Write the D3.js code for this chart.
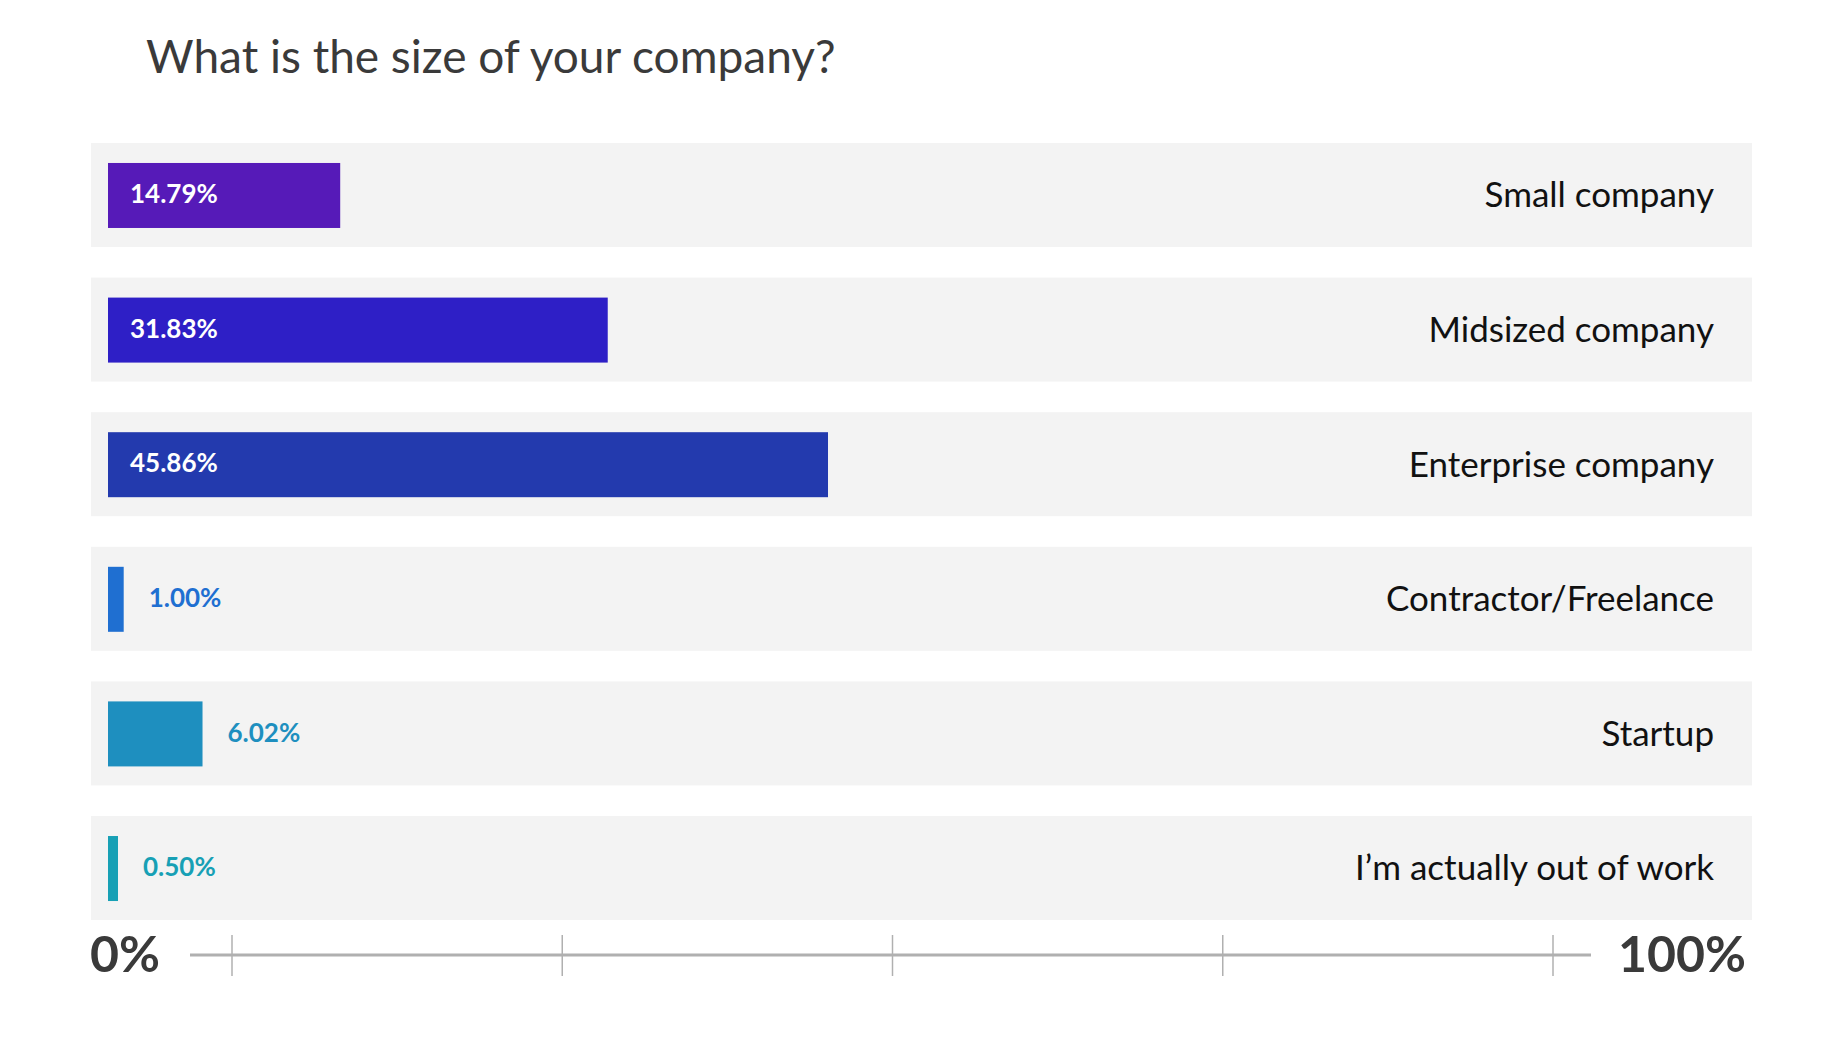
<!DOCTYPE html>
<html><head><meta charset="utf-8">
<script src="https://cdn.jsdelivr.net/npm/d3@7/dist/d3.min.js"></script>
<style>body{margin:0;background:#fff}svg{display:block}</style>
</head><body>
<svg id="c" width="1828" height="1042"></svg>
<script>
const categories = ["Small company","Midsized company","Enterprise company","Contractor/Freelance","Startup","I’m actually out of work"];
const values = [14.79,31.83,45.86,1.00,6.02,0.50];
const valueLabels = ["14.79%","31.83%","45.86%","1.00%","6.02%","0.50%"];
const colors = ["#561ab8","#2e1fc6","#233aae","#1f6fd1","#1e8fbf","#17a0b5"];
const axisTicks = [0,25,50,75,100];
const axisEnds = ["0%","100%"];

const svg = d3.select("#c");
const font = "Lato, 'Open Sans', sans-serif";
svg.append("text").attr("x",146).attr("y",73).attr("font-family",font)
  .attr("font-size",46).attr("fill","#3a3a3a").text("What is the size of your company?");

const y = d3.scaleBand().domain(categories).range([146,146+129*6]).paddingInner(0.25).paddingOuter(0);
const x = d3.scaleLinear().domain([0,100]).range([108,108+1570]);
const rowL = 91, rowR = 1752;
const g = svg.append("g");
const rows = g.selectAll("g").data(categories).join("g");
rows.append("rect").attr("x",rowL).attr("width",rowR-rowL)
  .attr("y",d=>y(d)-3).attr("height",y.bandwidth()+3+0).attr("fill","#f3f3f3");
const bh = 65;
rows.append("rect").attr("x",x(0)).attr("y",d=>y(d)+y.bandwidth()/2-bh/2-1)
  .attr("width",(d,i)=>Math.max(x(values[i])-x(0),10)).attr("height",bh)
  .attr("fill",(d,i)=>colors[i]);
rows.append("text").attr("font-family",font).attr("font-weight",700).attr("font-size",26)
  .attr("dominant-baseline","middle").attr("y",d=>y(d)+y.bandwidth()/2)
  .attr("x",(d,i)=>values[i]>10 ? 130 : x(0)+Math.max(x(values[i])-x(0),10)+25)
  .attr("fill",(d,i)=>values[i]>10 ? "#fff" : colors[i])
  .text((d,i)=>valueLabels[i]);
rows.append("text").attr("font-family",font).attr("font-size",35).attr("fill","#111")
  .attr("text-anchor","end").attr("dominant-baseline","middle")
  .attr("x",1714).attr("y",d=>y(d)+y.bandwidth()/2+2).text(d=>d);

// axis
const ax = d3.scaleLinear().domain([0,100]).range([232,1553]);
const ay = 955;
svg.append("line").attr("x1",190).attr("x2",1591).attr("y1",ay).attr("y2",ay)
  .attr("stroke","#b0b0b0").attr("stroke-width",3);
svg.selectAll(".tk").data(axisTicks).join("line").attr("x1",d=>ax(d)).attr("x2",d=>ax(d))
  .attr("y1",935).attr("y2",976).attr("stroke","#b0b0b0").attr("stroke-width",1.5);
svg.append("text").attr("x",90).attr("y",972).attr("font-family",font).attr("font-weight",700)
  .attr("font-size",50).attr("fill","#3a3a3a").text(axisEnds[0]);
svg.append("text").attr("x",1746).attr("y",972).attr("text-anchor","end").attr("font-family",font)
  .attr("font-weight",700).attr("font-size",50).attr("fill","#3a3a3a").text(axisEnds[1]);
</script>
</body></html>
